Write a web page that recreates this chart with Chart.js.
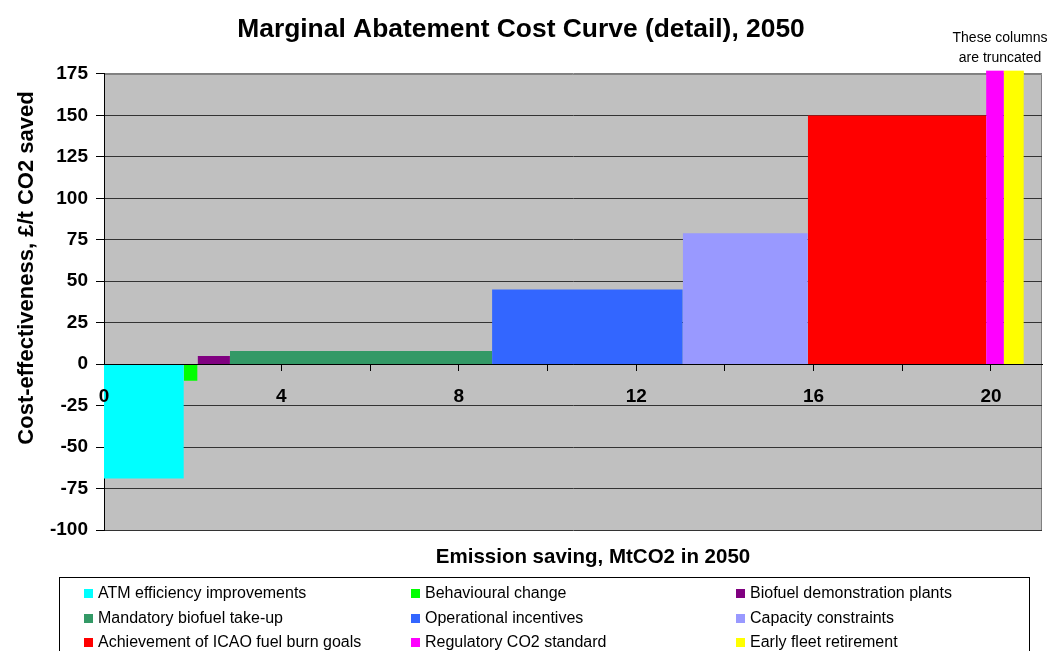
<!DOCTYPE html>
<html>
<head>
<meta charset="utf-8">
<script src="https://cdn.jsdelivr.net/npm/chart.js@4.4.1/dist/chart.umd.min.js"></script>
<style>
    body { margin: 0; background: #fff; font-family: 'Liberation Sans', Arial, sans-serif; }
    #wrap { position: relative; width: 1052px; height: 651px; overflow: hidden; }
    #legend { position: absolute; left: 59px; top: 577px; width: 971px; height: 100px; border: 1px solid #000; box-sizing: border-box; }
    .legend-item { position: absolute; font-size: 16px; color: #000; white-space: nowrap; line-height: 18px; }
    .legend-item span { display: inline-block; width: 9px; height: 9px; margin-right: 5px; vertical-align: 0px; }
</style>
</head>
<body>
<div id="wrap">
    <canvas id="macc"></canvas>
    <div id="legend"></div>
</div>
<script>
// Measures, in order of cost-effectiveness
const measures = [
    'ATM efficiency improvements', 'Behavioural change', 'Biofuel demonstration plants',
    'Mandatory biofuel take-up', 'Operational incentives', 'Capacity constraints',
    'Achievement of ICAO fuel burn goals', 'Regulatory CO2 standard', 'Early fleet retirement'
];
// Emission saving of each measure, MtCO2 in 2050 (column widths)
const savings = [1.80, 0.31, 0.73, 5.91, 4.30, 2.82, 4.02, 0.40, 0.45];
// Cost-effectiveness, £/t CO2 saved (last two columns are truncated in the original)
const costs = [-69, -10, 5, 8, 45, 79, 150, 177, 177];
const colours = ['#00FFFF', '#00FF00', '#800080', '#339966', '#3366FF', '#9999FF', '#FF0000', '#FF00FF', '#FFFF00'];
const xTickLabels = [0, 4, 8, 12, 16, 20];

const FONT = "'Liberation Sans', Arial, sans-serif";

// each column is a closed outline filled down to zero
let start = 0;
const datasets = measures.map((name, i) => {
    const end = start + savings[i];
    const ds = {
        label: name,
        data: [
            { x: start, y: 0 }, { x: start, y: costs[i] },
            { x: end, y: costs[i] }, { x: end, y: 0 }
        ],
        showLine: true,
        fill: 'origin',
        backgroundColor: colours[i],
        borderWidth: 0,
        pointRadius: 0,
        pointHitRadius: 0,
        tension: 0
    };
    start = end;
    return ds;
});

const plotFrame = {
    id: 'plotFrame',
    beforeDraw(chart) {
        const { ctx, chartArea: a } = chart;
        ctx.save();
        ctx.fillStyle = '#C0C0C0';
        ctx.fillRect(a.left, a.top, a.right - a.left, a.bottom - a.top);
        ctx.strokeStyle = '#808080';
        ctx.lineWidth = 1;
        ctx.beginPath();
        ctx.moveTo(a.left, a.top + 0.5);
        ctx.lineTo(a.right - 0.5, a.top + 0.5);
        ctx.lineTo(a.right - 0.5, a.bottom);
        ctx.stroke();
        ctx.restore();
    },
    afterDatasetsDraw(chart) {
        // truncated columns poke a few pixels above the plot, as in the original
        const { ctx, chartArea: a, scales } = chart;
        const yMax = scales.y.max;
        ctx.save();
        chart.data.datasets.forEach((ds, i) => {
            if (costs[i] <= yMax) return;
            const x0 = scales.x.getPixelForValue(ds.data[0].x);
            const x1 = scales.x.getPixelForValue(ds.data[2].x);
            const top = scales.y.getPixelForValue(costs[i]);
            ctx.fillStyle = ds.backgroundColor;
            ctx.fillRect(x0, top, x1 - x0, a.top - top + 1);
        });
        ctx.restore();
    },
    afterDraw(chart) {
        const { ctx } = chart;
        ctx.save();
        ctx.fillStyle = '#000';
        ctx.textAlign = 'center';
        ctx.textBaseline = 'alphabetic';

        ctx.font = 'bold 20.5px ' + FONT;
        ctx.fillText('Emission saving, MtCO2 in 2050', 593, 563);

        ctx.save();
        ctx.translate(33, 268);
        ctx.rotate(-Math.PI / 2);
        ctx.font = 'bold 22px ' + FONT;
        ctx.fillText('Cost-effectiveness, £/t CO2 saved', 0, 0);
        ctx.restore();

        ctx.font = '14px ' + FONT;
        ctx.fillText('These columns', 1000, 41.5);
        ctx.fillText('are truncated', 1000, 61.5);
        ctx.restore();
    }
};

new Chart(document.getElementById('macc'), {
    type: 'scatter',
    data: { datasets },
    options: {
        responsive: true,
        maintainAspectRatio: false,
        animation: false,
        events: [],
        layout: { padding: { left: 0, right: 10, top: 0, bottom: 121 } },
        plugins: {
            legend: { display: false },
            tooltip: { enabled: false },
            title: {
                display: true,
                text: 'Marginal Abatement Cost Curve (detail), 2050',
                color: '#000',
                font: { family: FONT, size: 26.4, weight: 'bold', lineHeight: 1.2 },
                padding: { top: 14, bottom: 28.3 }
            }
        },
        scales: {
            x: {
                type: 'linear',
                position: { y: 0 },
                min: 0,
                max: 21.15,
                afterFit(scale) { scale.height = 0; },
                afterBuildTicks(scale) {
                    const ticks = [];
                    for (let v = 0; v <= 20; v += 2) ticks.push({ value: v });
                    scale.ticks = ticks;
                },
                ticks: {
                    z: 1,
                    autoSkip: false,
                    maxRotation: 0,
                    padding: 15,
                    color: '#000',
                    font: { family: FONT, size: 19, weight: 'bold' },
                    callback: v => xTickLabels.includes(v) ? String(v) : ''
                },
                grid: { drawOnChartArea: false, drawTicks: true, tickLength: 6, tickColor: '#000' },
                border: { display: true, color: '#000', width: 1, z: 1 }
            },
            y: {
                min: -100,
                max: 175,
                afterFit(scale) { scale.width = 104; },
                ticks: {
                    stepSize: 25,
                    padding: 8,
                    color: '#000',
                    font: { family: FONT, size: 19, weight: 'bold' }
                },
                grid: {
                    color: c => c.tick && c.tick.value === 175 ? '#808080' : '#333',
                    tickColor: '#000',
                    tickLength: 8,
                    lineWidth: 1
                },
                border: { display: true, color: '#000', width: 1 }
            }
        }
    },
    plugins: [plotFrame]
});

// legend box, three columns as in the original
const legendCols = [24, 351, 676];
const legendRows = [6, 31, 55];
const legend = document.getElementById('legend');
measures.forEach((name, i) => {
    const item = document.createElement('div');
    item.className = 'legend-item';
    item.style.left = legendCols[i % 3] + 'px';
    item.style.top = legendRows[Math.floor(i / 3)] + 'px';
    item.innerHTML = `<span style="background:${colours[i]}"></span>${name}`;
    legend.appendChild(item);
});
</script>
</body>
</html>
